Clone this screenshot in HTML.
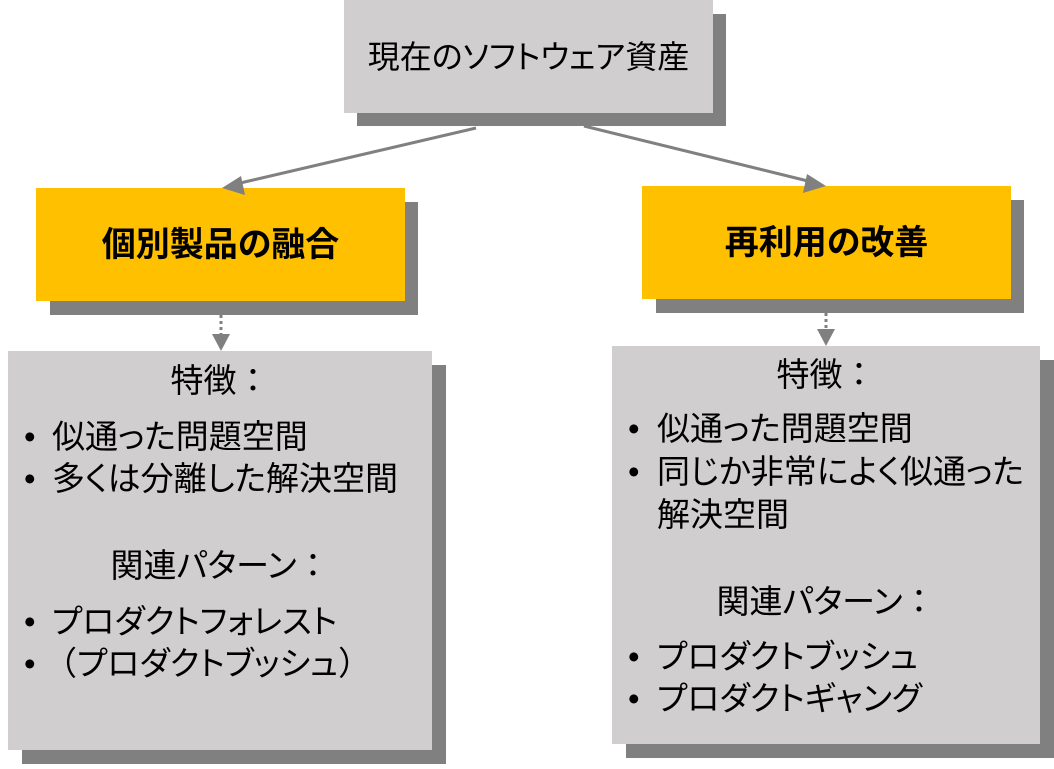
<!DOCTYPE html>
<html><head><meta charset="utf-8"><style>
body{margin:0;width:1054px;height:769px;background:#fff;position:relative;overflow:hidden;font-family:"Liberation Sans","Noto Sans CJK JP",sans-serif;color:#000}
.b{position:absolute}
.sh{background:#808080}
.g{background:#D0CECF}
.y{background:#FFC000}
.t{position:absolute;font-size:33px;line-height:36px;white-space:nowrap;font-feature-settings:"palt" 1}
.n{font-feature-settings:normal}
.c{text-align:center}
.bold{font-weight:bold;font-size:34px}
</style></head><body>
<div class="b sh" style="left:357px;top:14px;width:369px;height:112px"></div>
<div class="b g" style="left:344px;top:0;width:369px;height:113px"></div>
<div class="t c" style="left:344px;width:369px;top:39px;font-size:32px">現在のソフトウェア資産</div>

<div class="b sh" style="left:50px;top:202px;width:368px;height:113px"></div>
<div class="b y" style="left:36px;top:188px;width:369px;height:113px"></div>
<div class="t c bold" style="left:36px;width:369px;top:227px">個別製品の融合</div>

<div class="b sh" style="left:656px;top:200px;width:368px;height:113px"></div>
<div class="b y" style="left:642px;top:186px;width:369px;height:113px"></div>
<div class="t c bold" style="left:642px;width:369px;top:225px">再利用の改善</div>

<div class="b sh" style="left:22px;top:365px;width:424px;height:399px"></div>
<div class="b g" style="left:8px;top:351px;width:424px;height:399px"></div>
<div class="b sh" style="left:626px;top:360px;width:428px;height:398px"></div>
<div class="b g" style="left:612px;top:346px;width:428px;height:398px"></div>

<svg class="b" style="left:0;top:0" width="1054" height="769">
<g stroke="#808080" stroke-width="3" fill="#808080">
<line x1="476" y1="128" x2="236" y2="184"/>
<polygon points="222,188 241,176 245,195" stroke="none"/>
<line x1="584" y1="126" x2="812" y2="182"/>
<polygon points="826,186 803,193 807,174" stroke="none"/>
<line x1="221" y1="315" x2="221" y2="336" stroke-dasharray="3,3"/>
<polygon points="212,334 230,334 221,351" stroke="none"/>
<line x1="826" y1="313" x2="826" y2="331" stroke-dasharray="3,3"/>
<polygon points="817,329 835,329 826,346" stroke="none"/>
</g></svg>

<div class="t c" style="left:8px;width:424px;top:363px">特徴<span class="n">：</span></div>
<div class="t" style="left:24px;top:419px">•</div><div class="t" style="left:52px;top:419px">似通った問題空間</div>
<div class="t" style="left:24px;top:461px">•</div><div class="t" style="left:52px;top:461px">多くは分離した解決空間</div>
<div class="t c" style="left:8px;width:424px;top:548px">関連パターン<span class="n">：</span></div>
<div class="t" style="left:24px;top:604px">•</div><div class="t" style="left:52px;top:604px">プロダクトフォレスト</div>
<div class="t" style="left:24px;top:646px">•</div><div class="t" style="left:44px;top:646px"><span class="n">（</span>プロダクトブッシュ<span class="n">）</span></div>

<div class="t c" style="left:612px;width:428px;top:357px">特徴<span class="n">：</span></div>
<div class="t" style="left:628px;top:411px">•</div><div class="t" style="left:657px;top:411px">似通った問題空間</div>
<div class="t" style="left:628px;top:454px">•</div><div class="t" style="left:657px;top:454px">同じか非常によく似通った</div>
<div class="t" style="left:657px;top:497px">解決空間</div>
<div class="t c" style="left:612px;width:428px;top:584px">関連パターン<span class="n">：</span></div>
<div class="t" style="left:628px;top:639px">•</div><div class="t" style="left:657px;top:639px">プロダクトブッシュ</div>
<div class="t" style="left:628px;top:681px">•</div><div class="t" style="left:657px;top:681px">プロダクトギャング</div>
</body></html>
